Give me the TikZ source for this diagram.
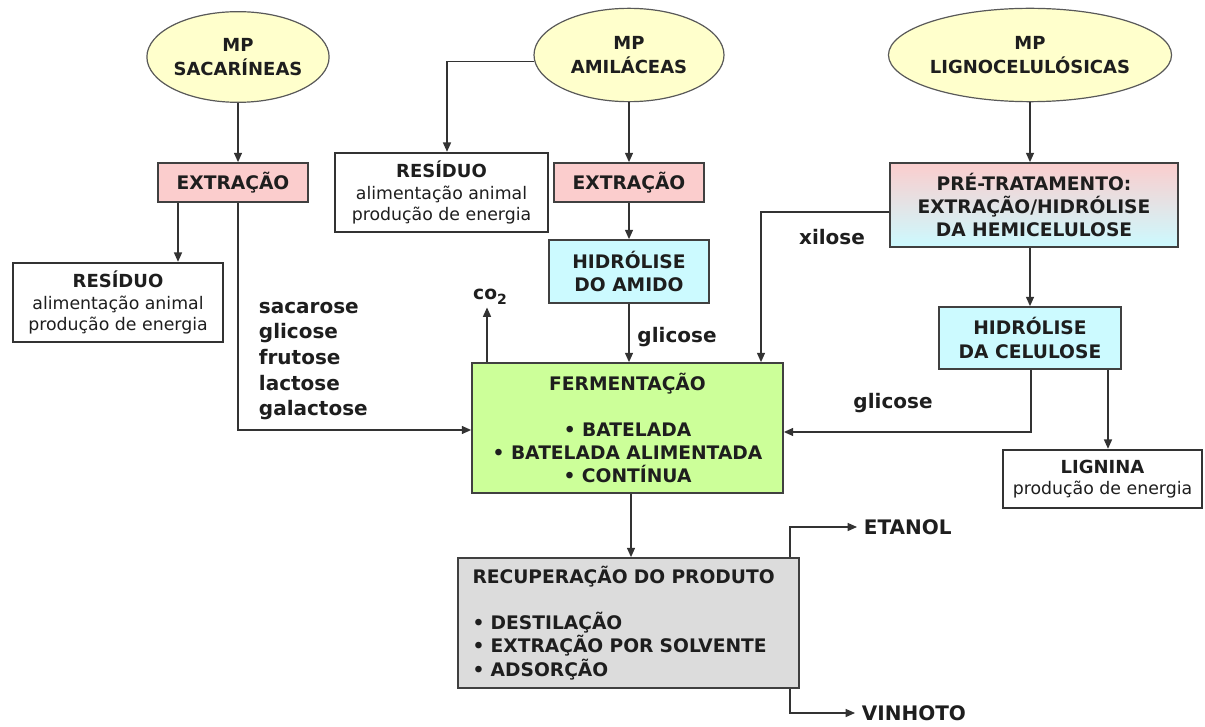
\documentclass[tikz,border=0pt]{standalone}
\usepackage{fontspec}
\setmainfont{DejaVu Sans}
\usetikzlibrary{shapes.geometric,arrows.meta}
\definecolor{ellfill}{HTML}{FFFFCC}
\definecolor{pinkfill}{HTML}{FBCDCD}
\definecolor{cyanfill}{HTML}{CCFAFF}
\definecolor{greenfill}{HTML}{CCFF99}
\definecolor{grayfill}{HTML}{DCDCDC}
\definecolor{lineclr}{HTML}{333333}
\definecolor{txt}{HTML}{1E1E1E}
\begin{document}
\begin{tikzpicture}[x=0.75pt,y=-0.75pt,
  ell/.style={ellipse, draw=black!65, line width=0.9pt, fill=ellfill, inner sep=0pt, align=center,
    text=txt, font=\fontsize{13.5}{17.5}\selectfont\bfseries},
  bx/.style={rectangle, draw=black!75, line width=1.3pt, inner sep=0pt, align=center,
    text=txt, font=\fontsize{14}{17.5}\selectfont\bfseries},
  resbox/.style={rectangle, draw=black!80, line width=1.8pt, fill=white, inner sep=0pt, align=center,
    text=txt, font=\fontsize{13}{16.2}\selectfont},
  arr/.style={draw=lineclr, line width=1pt, -{Triangle[length=7pt,width=6pt]}},
  lbl/.style={text=txt, font=\fontsize{15}{19.2}\selectfont\bfseries, inner sep=2pt}]
\useasboundingbox[fill=white] (0,0) rectangle (1205,727);

% ellipses
\node[ell, minimum width=135pt, minimum height=68pt] (sac) at (238,57) {MP\\SACARÍNEAS};
\node[ell, minimum width=142.5pt, minimum height=70pt] (amil) at (629,55) {MP\\AMILÁCEAS};
\node[ell, minimum width=174pt, minimum height=70pt] (lig) at (1030,55) {MP\\LIGNOCELULÓSICAS};

% boxes
\node[bx, fill=pinkfill, minimum width=112.5pt, minimum height=29.25pt] (ext1) at (233,182.5) {EXTRAÇÃO};
\node[bx, fill=pinkfill, minimum width=112.5pt, minimum height=29.25pt] (ext2) at (629,182.5) {EXTRAÇÃO};
\node[bx, fill=cyanfill, minimum width=120pt, minimum height=47.25pt] (hamido) at (629,271.5) {HIDRÓLISE\\DO AMIDO};
\node[bx, top color=pinkfill, bottom color=cyanfill, minimum width=216pt, minimum height=63pt] (pre) at (1034,205) {PRÉ-TRATAMENTO:\\EXTRAÇÃO/HIDRÓLISE\\DA HEMICELULOSE};
\node[bx, fill=cyanfill, minimum width=136.5pt, minimum height=46.5pt] (hcel) at (1030,338) {HIDRÓLISE\\DA CELULOSE};
\node[bx, fill=greenfill, minimum width=233.25pt, minimum height=97.5pt] (ferm) at (627.5,428)
  {FERMENTAÇÃO\\[17pt]• BATELADA\\• BATELADA ALIMENTADA\\• CONTÍNUA};
\node[bx, fill=grayfill, minimum width=255.75pt, minimum height=97.5pt, align=left, text width=234pt] (rec) at (628.5,623)
  {RECUPERAÇÃO DO PRODUTO\\[17pt]• DESTILAÇÃO\\• EXTRAÇÃO POR SOLVENTE\\• ADSORÇÃO};

% residue boxes
\node[resbox, minimum width=157.5pt, minimum height=59.25pt] (res1) at (118,302.5)
  {{\bfseries\fontsize{13.5}{16}\selectfont RESÍDUO}\\alimentação animal\\produção de energia};
\node[resbox, minimum width=159.75pt, minimum height=59.25pt] (res2) at (441.5,192.5)
  {{\bfseries\fontsize{13.5}{16}\selectfont RESÍDUO}\\alimentação animal\\produção de energia};
\node[resbox, minimum width=149.25pt, minimum height=43.5pt] (lign) at (1102.5,479)
  {{\bfseries\fontsize{13.5}{16}\selectfont LIGNINA}\\produção de energia};

% labels
\node[lbl, anchor=west, align=left] (acucares) at (256,361) {sacarose\\glicose\\frutose\\lactose\\galactose};
\node[lbl] (gli1) at (677,337) {glicose};
\node[lbl] (xil) at (832,237) {xilose};
\node[lbl] (gli2) at (893,403) {glicose};
\node[lbl, font=\fontsize{14}{15}\selectfont\bfseries] (co2) at (490,297) {co\raisebox{-0.45ex}{\fontsize{10.5}{11}\selectfont 2}};
\node[lbl, anchor=west, inner sep=5pt] (etanol) at (857,527) {ETANOL};
\node[lbl, anchor=west, inner sep=5pt] (vinhoto) at (855,713) {VINHOTO};

% connectors
\draw[arr] (sac.south) -- (sac.south |- ext1.north);
\draw[arr] (178,0 |- ext1.south) -- (178,0 |- res1.north);
\draw[arr] (238,0 |- ext1.south) |- (ferm.west |- 0,430);
\draw[arr] (amil.184) -| (447,0 |- res2.north);
\draw[arr] (amil.south) -- (ext2.north);
\draw[arr] (ext2.south) -- (hamido.north);
\draw[arr] (hamido.south) -- (hamido.south |- ferm.north);
\draw[arr] (487,0 |- ferm.north) -- (487,0 |- co2.south);
\draw[arr] (lig.south) -- (lig.south |- pre.north);
\draw[arr] (pre.west |- 0,212) -| (761,0 |- ferm.north);
\draw[arr] (1030,0 |- pre.south) -- (1030,0 |- hcel.north);
\draw[arr] (1031,0 |- hcel.south) |- (ferm.east |- 0,432);
\draw[arr] (1108,0 |- hcel.south) -- (1108,0 |- lign.north);
\draw[arr] (631,0 |- ferm.south) -- (631,0 |- rec.north);
\draw[arr] (790,0 |- rec.north) |- (etanol.west);
\draw[arr] (790,0 |- rec.south) |- (vinhoto.west);
\end{tikzpicture}
\end{document}
